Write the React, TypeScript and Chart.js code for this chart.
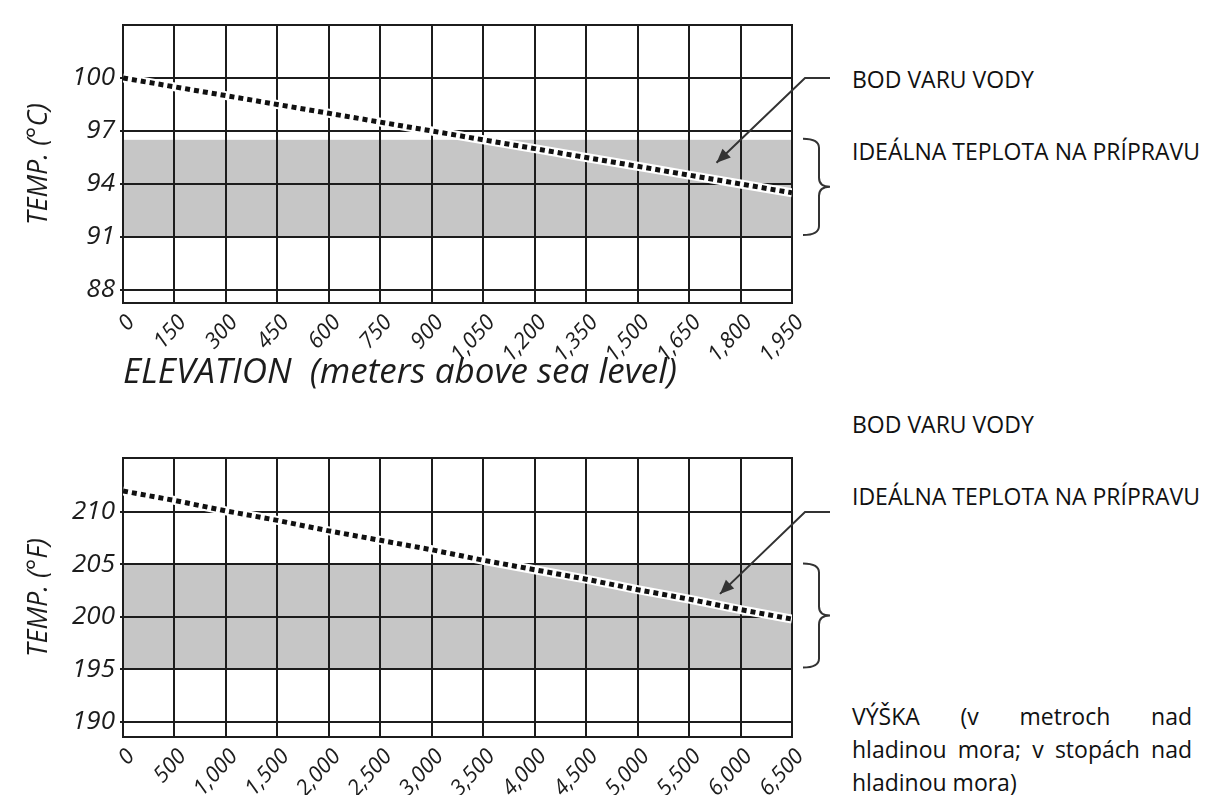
import React, { useEffect, useRef } from "react";
import { Chart, registerables } from "chart.js";

Chart.register(...registerables);

// ---------- Top chart: °C vs metres ----------
const ELEV_M = [0, 150, 300, 450, 600, 750, 900, 1050, 1200, 1350, 1500, 1650, 1800, 1950];
const ELEV_M_LABELS = ["0", "150", "300", "450", "600", "750", "900", "1,050", "1,200", "1,350", "1,500", "1,650", "1,800", "1,950"];
const BOIL_C = [100.0, 99.5, 99.0, 98.5, 98.0, 97.5, 97.0, 96.5, 96.0, 95.5, 95.0, 94.5, 94.0, 93.5];
const TEMP_C_TICKS = [88, 91, 94, 97, 100];
const TEMP_C_RANGE = [87.26, 103.0];
const BAND_C = [91, 96.5];
const ARROW_TIP_C = [1730, 95.2];
const LEADER_C = 100;

// ---------- Bottom chart: °F vs feet ----------
const ELEV_FT = [0, 500, 1000, 1500, 2000, 2500, 3000, 3500, 4000, 4500, 5000, 5500, 6000, 6500];
const ELEV_FT_LABELS = ["0", "500", "1,000", "1,500", "2,000", "2,500", "3,000", "3,500", "4,000", "4,500", "5,000", "5,500", "6,000", "6,500"];
const BOIL_F = [212.0, 211.1, 210.1, 209.2, 208.2, 207.3, 206.4, 205.4, 204.5, 203.6, 202.6, 201.7, 200.7, 199.8];
const TEMP_F_TICKS = [190, 195, 200, 205, 210];
const TEMP_F_RANGE = [188.57, 215.14];
const BAND_F = [195, 205];
const ARROW_TIP_F = [5800, 202.2];
const LEADER_F = 210;

const SANS = "'Open Sans', sans-serif";
const INK = "#1c1c1c";

const bandPlugin = {
  id: "band",
  beforeDraw(chart: any, _a: any, opts: any) {
    const { ctx, scales } = chart;
    const x = scales.x, y = scales.y;
    const x0 = x.getPixelForValue(x.min), x1 = x.getPixelForValue(x.max);
    const yTop = y.getPixelForValue(opts.band[1]);
    const yBot = y.getPixelForValue(opts.band[0]);
    ctx.save();
    ctx.fillStyle = "#c6c6c6";
    ctx.fillRect(x0, yTop, x1 - x0, yBot - yTop);
    ctx.restore();
  },
  afterDatasetsDraw(chart: any) {
    const { ctx, chartArea } = chart;
    ctx.save();
    ctx.strokeStyle = INK;
    ctx.lineWidth = 2;
    ctx.beginPath();
    ctx.moveTo(chartArea.left - 1, chartArea.top);
    ctx.lineTo(chartArea.right + 1, chartArea.top);
    ctx.stroke();
    ctx.restore();
  },
};

const annotPlugin = {
  id: "annot",
  afterDraw(chart: any, _a: any, opts: any) {
    const { ctx, chartArea, scales } = chart;
    const x = scales.x, y = scales.y;
    const r = chartArea.right;
    const tipX = x.getPixelForValue(opts.tip[0]);
    const tipY = y.getPixelForValue(opts.tip[1]);
    const ly = y.getPixelForValue(opts.leader);
    ctx.save();
    ctx.strokeStyle = "#333";
    ctx.fillStyle = "#333";
    ctx.lineWidth = 2;
    const bendX = r + 13;
    ctx.beginPath();
    ctx.moveTo(r + 38, ly);
    ctx.lineTo(bendX, ly);
    ctx.lineTo(tipX, tipY);
    ctx.stroke();
    const ang = Math.atan2(tipY - ly, tipX - bendX);
    const L = 14, W = 6;
    const bx = tipX - L * Math.cos(ang), by = tipY - L * Math.sin(ang);
    ctx.beginPath();
    ctx.moveTo(tipX, tipY);
    ctx.lineTo(bx + W * Math.sin(ang), by - W * Math.cos(ang));
    ctx.lineTo(bx - W * Math.sin(ang), by + W * Math.cos(ang));
    ctx.closePath();
    ctx.fill();
    const top = y.getPixelForValue(opts.band[1]) - 1;
    const bot = y.getPixelForValue(opts.band[0]) - 2;
    const mid = (top + bot) / 2;
    const x0 = r + 11, x1 = r + 27, xm = r + 38, rr = 9;
    ctx.beginPath();
    ctx.moveTo(x0, top);
    ctx.quadraticCurveTo(x1, top, x1, top + rr);
    ctx.lineTo(x1, mid - rr);
    ctx.quadraticCurveTo(x1, mid, xm, mid);
    ctx.quadraticCurveTo(x1, mid, x1, mid + rr);
    ctx.lineTo(x1, bot - rr);
    ctx.quadraticCurveTo(x1, bot, x0, bot);
    ctx.stroke();
    ctx.restore();
  },
};

function buildConfig(p: any): any {
  const pts = p.xs.map((v: number, i: number) => ({ x: v, y: p.ys[i] }));
  return {
    type: "line",
    data: {
      datasets: [
        { data: pts, borderColor: "#ffffff", borderWidth: 9, pointRadius: 0, tension: 0, order: 2 },
        { data: pts, borderColor: "#111111", borderWidth: 5, borderDash: [5, 4], pointRadius: 0, tension: 0, order: 1 },
      ],
    },
    options: {
      responsive: false,
      animation: false,
      events: [],
      layout: { padding: { top: p.padTop, right: p.padRight, left: 0, bottom: 0 } },
      plugins: {
        legend: { display: false },
        tooltip: { enabled: false },
        band: { band: p.band },
        annot: { tip: p.tip, leader: p.leader, band: p.band },
      },
      scales: {
        x: {
          type: "linear",
          min: p.xs[0],
          max: p.xs[p.xs.length - 1],
          afterBuildTicks: (s: any) => {
            s.ticks = p.xs.map((v: number) => ({ value: v }));
          },
          afterFit: (s: any) => {
            s.height = p.xHeight;
          },
          ticks: {
            autoSkip: false,
            minRotation: 48,
            maxRotation: 48,
            padding: 7,
            labelOffset: 8,
            color: INK,
            font: { family: SANS, size: 22, style: "italic" },
            callback: (_v: any, i: number) => p.xLabels[i],
          },
          grid: { color: INK, lineWidth: 2, drawTicks: false },
          border: { display: true, color: INK, width: 2 },
          title: p.xTitle
            ? {
                display: true,
                text: p.xTitle,
                align: "start",
                color: INK,
                font: { family: SANS, size: 35, style: "italic" },
                padding: { top: 0, bottom: 6 },
              }
            : { display: false },
        },
        y: {
          type: "linear",
          min: p.yRange[0],
          max: p.yRange[1],
          afterBuildTicks: (s: any) => {
            s.ticks = p.yTicks.map((v: number) => ({ value: v }));
          },
          afterFit: (s: any) => {
            s.width = 123;
          },
          ticks: {
            padding: 5,
            color: INK,
            font: { family: SANS, size: 26, style: "italic" },
            callback: (v: any) => String(v),
          },
          grid: { color: INK, lineWidth: 2, drawTicks: true, tickLength: 3, tickColor: INK },
          border: { display: true, color: INK, width: 2 },
          title: {
            display: true,
            text: p.yTitle,
            color: INK,
            font: { family: SANS, size: 27, style: "italic" },
            padding: { top: 23, bottom: 0 },
          },
        },
      },
    },
    plugins: [bandPlugin, annotPlugin],
  };
}

const textBase: React.CSSProperties = {
  position: "absolute",
  left: 852,
  fontFamily: "'Open Sans', sans-serif",
  fontSize: 23,
  lineHeight: "33px",
  color: "#111",
  whiteSpace: "nowrap",
};

const justLine: React.CSSProperties = {
  textAlign: "justify",
  textAlignLast: "justify" as any,
  whiteSpace: "normal",
};

export default function App() {
  const topRef = useRef<HTMLCanvasElement>(null);
  const botRef = useRef<HTMLCanvasElement>(null);

  useEffect(() => {
    document.body.style.margin = "0";
    const c1 = new Chart(
      topRef.current as HTMLCanvasElement,
      buildConfig({
        xs: ELEV_M,
        ys: BOIL_C,
        xLabels: ELEV_M_LABELS,
        yTicks: TEMP_C_TICKS,
        yRange: TEMP_C_RANGE,
        band: BAND_C,
        tip: ARROW_TIP_C,
        leader: LEADER_C,
        yTitle: "TEMP. (°C)",
        xTitle: "ELEVATION  (meters above sea level)",
        padTop: 25,
        padRight: 48,
        xHeight: 97,
      })
    );
    const c2 = new Chart(
      botRef.current as HTMLCanvasElement,
      buildConfig({
        xs: ELEV_FT,
        ys: BOIL_F,
        xLabels: ELEV_FT_LABELS,
        yTicks: TEMP_F_TICKS,
        yRange: TEMP_F_RANGE,
        band: BAND_F,
        tip: ARROW_TIP_F,
        leader: LEADER_F,
        yTitle: "TEMP. (°F)",
        xTitle: null,
        padTop: 58,
        padRight: 48,
        xHeight: 58,
      })
    );
    return () => {
      c1.destroy();
      c2.destroy();
    };
  }, []);

  return (
    <div style={{ position: "absolute", left: 0, top: 0, width: 1208, height: 795, background: "#fff", overflow: "hidden" }}>
      <canvas ref={topRef} width={840} height={400} style={{ position: "absolute", left: 0, top: 0, width: 840, height: 400 }} />
      <canvas ref={botRef} width={840} height={395} style={{ position: "absolute", left: 0, top: 400, width: 840, height: 395 }} />
      <div style={{ ...textBase, top: 62.6 }}>BOD VARU VODY</div>
      <div style={{ ...textBase, top: 134.6 }}>IDEÁLNA TEPLOTA NA PRÍPRAVU</div>
      <div style={{ ...textBase, top: 407.6 }}>BOD VARU VODY</div>
      <div style={{ ...textBase, top: 479.6 }}>IDEÁLNA TEPLOTA NA PRÍPRAVU</div>
      <div style={{ ...textBase, top: 699.6, width: 340, whiteSpace: "normal" }}>
        <div style={justLine}>VÝŠKA (v metroch nad</div>
        <div style={justLine}>hladinou mora; v stopách nad</div>
        <div style={{ whiteSpace: "nowrap" }}>hladinou mora)</div>
      </div>
    </div>
  );
}
